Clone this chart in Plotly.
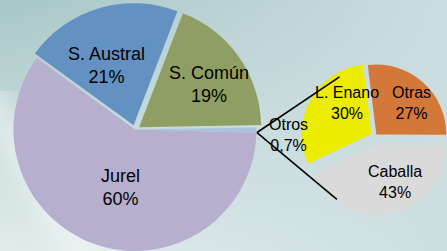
import math, zlib, struct, base64
import numpy as np
import plotly.graph_objects as go

# ---------------- data ----------------
main_labels = ["S. Austral", "S. Común", "Otros", "Jurel"]
main_values = [21, 19, 0.7, 60]
main_pct = ["21%", "19%", "0,7%", "60%"]

sub_labels = ["Otras", "Caballa", "L. Enano"]
sub_values = [27, 43, 30]
sub_pct = ["27%", "43%", "30%"]

# ---------------- style / layout ----------------
W, H = 447, 251
main_colors = ["#6391c2", "#8f9f63", "#a9c3df", "#b7afce"]
main_shift = [5, 5, 0, 0]          # explode offset in px
sub_colors = ["#d4783a", "#dadada", "#ecec00"]
sub_shift = [2, 9, 4]

main_c, main_r, main_rot = (135, 130), 122, -54
sub_c, sub_r, sub_rot = (375, 136), 70, -7
FONT = "Liberation Sans, Arial, sans-serif"

# label block centres (px)
main_lab_pos = [(106, 65), (209, 85), (288, 135), (120, 187)]
main_lab_size = [18, 18, 16, 18]
sub_lab_pos = [(411, 103), (395, 182), (347, 103)]


def png_uri(arr):
    h, w, _ = arr.shape
    raw = b"".join(b"\x00" + arr[i].tobytes() for i in range(h))
    def chunk(t, d):
        c = struct.pack(">I", len(d)) + t + d
        return c + struct.pack(">I", zlib.crc32(t + d) & 0xffffffff)
    png = b"\x89PNG\r\n\x1a\n" + chunk(b"IHDR", struct.pack(">IIBBBBB", w, h, 8, 2, 0, 0, 0)) \
        + chunk(b"IDAT", zlib.compress(raw, 9)) + chunk(b"IEND", b"")
    return "data:image/png;base64," + base64.b64encode(png).decode()

# background gradient
yy, xx = np.mgrid[0:H, 0:W]
u = xx / (W - 1); v = yy / (H - 1)
TL = np.array([168, 199, 199]); TR = np.array([204, 221, 225])
BL = np.array([226, 236, 236]); BR = np.array([206, 223, 226])
bg = (TL * ((1 - u) * (1 - v))[..., None] + TR * (u * (1 - v))[..., None]
      + BL * ((1 - u) * v)[..., None] + BR * (u * v)[..., None])
d = (yy - 100) - 1.6 * xx
band = np.exp(-((d - 20) / 45.0) ** 2) * (yy > 90)
bg = bg + (250 - bg) * (0.45 * band)[..., None]
bg = np.clip(bg, 0, 255).astype(np.uint8)


def mid_angles(values, rot):
    tot = sum(values)
    a = rot
    mids = []
    for val in values:
        span = 360 * val / tot
        mids.append(a + span / 2)
        a += span
    return mids


def dom(c, r, dx=0.0, dy=0.0):
    cx, cy = c[0] + dx, c[1] - dy
    return dict(x=[max(0, (cx - r) / W), min(1, (cx + r) / W)],
                y=[max(0, (H - cy - r) / H), min(1, (H - cy + r) / H)])


def pie_group(labels, values, colors, shifts, c, r, rot):
    traces = []
    mids = mid_angles(values, rot)
    groups = {}
    for i, s in enumerate(shifts):
        groups.setdefault(s if s == 0 else ("s", i), []).append(i)
    for key, idx in groups.items():
        s = shifts[idx[0]]
        m = math.radians(mids[idx[0]])
        dx, dy = s * math.sin(m), s * math.cos(m)
        cols = [colors[i] if i in idx else "rgba(0,0,0,0)" for i in range(len(values))]
        traces.append(go.Pie(
            labels=labels, values=values, sort=False, direction="clockwise",
            rotation=rot, marker=dict(colors=cols, line=dict(width=0)),
            textinfo="none", hoverinfo="label+percent", showlegend=False,
            domain=dom(c, r, dx, dy)))
    return traces


fig = go.Figure()
for t in pie_group(main_labels, main_values, main_colors, main_shift, main_c, main_r, main_rot):
    fig.add_trace(t)
for t in pie_group(sub_labels, sub_values, sub_colors, sub_shift, sub_c, sub_r, sub_rot):
    fig.add_trace(t)

# connector lines from the "Otros" slice to the secondary pie
om = math.radians(mid_angles(main_values, main_rot)[2])
p0 = (main_c[0] + main_r * math.sin(om), main_c[1] - main_r * math.cos(om) + 2)
shapes = []
for ang, dist in ((-31, 69), (211, 74)):
    a = math.radians(ang)
    p1 = (sub_c[0] + dist * math.sin(a), sub_c[1] - dist * math.cos(a))
    shapes.append(dict(type="line", xref="paper", yref="paper",
                       x0=p0[0] / W, y0=1 - p0[1] / H, x1=p1[0] / W, y1=1 - p1[1] / H,
                       line=dict(color="#000000", width=1.6)))

ann = []
for lab, pct, (x, y), fs in zip(main_labels, main_pct, main_lab_pos, main_lab_size):
    ann.append(dict(x=x / W, y=1 - y / H, xref="paper", yref="paper", showarrow=False,
                    xanchor="center", yanchor="middle", text=f"{lab}<br>{pct}",
                    font=dict(family=FONT, size=fs, color="#000000")))
for lab, pct, (x, y) in zip(sub_labels, sub_pct, sub_lab_pos):
    ann.append(dict(x=x / W, y=1 - y / H, xref="paper", yref="paper", showarrow=False,
                    xanchor="center", yanchor="middle", text=f"{lab}<br>{pct}",
                    font=dict(family=FONT, size=16, color="#000000")))

fig.update_layout(
    width=W, height=H, margin=dict(l=0, r=0, t=0, b=0),
    paper_bgcolor="#c4d9db", plot_bgcolor="rgba(0,0,0,0)",
    shapes=shapes, annotations=ann,
    images=[dict(source=png_uri(bg), xref="paper", yref="paper", x=0, y=1,
                 sizex=1, sizey=1, sizing="stretch", layer="below",
                 xanchor="left", yanchor="top")],
)
fig.write_html("out.html", config={"displayModeBar": False},
               post_script="document.body.style.margin='0';document.body.style.overflow='hidden';")
